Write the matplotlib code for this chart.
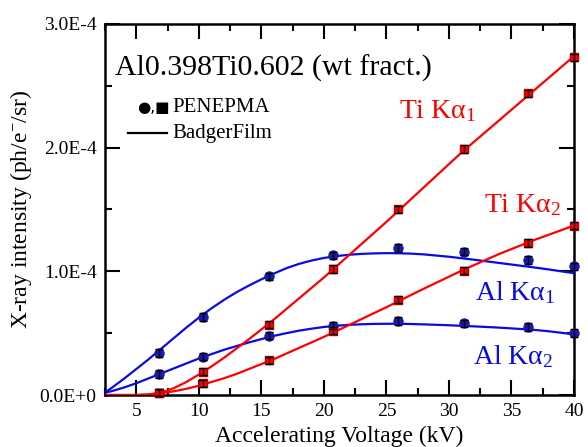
import numpy as np
import matplotlib
matplotlib.use("Agg")
import matplotlib.pyplot as plt
from matplotlib.ticker import MultipleLocator, FuncFormatter

plt.rcParams['font.family'] = ['Liberation Serif', 'DejaVu Sans']
plt.rcParams['mathtext.fontset'] = 'custom'
plt.rcParams['mathtext.rm'] = 'Liberation Serif'
plt.rcParams['mathtext.it'] = 'Liberation Serif:italic'

# PENEPMA points (intensity in units of 1E-4 ph/e-/sr)
volt_pts = [6.8, 10.35, 15.6, 20.7, 25.9, 31.2, 36.3, 40.0]
ti_ka1_pts = [0.02, 0.19, 0.57, 1.02, 1.50, 1.99, 2.44, 2.73]
ti_ka2_pts = [0.02, 0.095, 0.28, 0.52, 0.77, 1.005, 1.23, 1.37]
al_ka1_pts = [0.34, 0.63, 0.96, 1.13, 1.19, 1.16, 1.09, 1.04]
al_ka2_pts = [0.17, 0.31, 0.48, 0.56, 0.60, 0.58, 0.55, 0.50]
err = 0.03

# BadgerFilm curves
volt_al = [2.5, 3, 4, 5, 6, 7, 8, 9, 10, 11, 12, 13, 14, 15, 16, 17, 18, 19,
           20, 21, 22, 23, 24, 25, 26, 27, 28, 30, 32, 34, 36, 37, 38, 39, 40]
al_ka1_fit = [0.02, 0.055, 0.13, 0.21, 0.29, 0.375, 0.46, 0.545, 0.625, 0.70,
              0.768, 0.83, 0.885, 0.935, 0.982, 1.025, 1.06, 1.087, 1.108,
              1.123, 1.134, 1.141, 1.145, 1.147, 1.146, 1.143, 1.137, 1.118,
              1.094, 1.068, 1.042, 1.029, 1.015, 1.0, 0.985]
al_ka2_fit = [0.02, 0.03, 0.06, 0.095, 0.135, 0.175, 0.215, 0.255, 0.295,
              0.33, 0.365, 0.395, 0.425, 0.452, 0.478, 0.50, 0.52, 0.536,
              0.55, 0.56, 0.567, 0.572, 0.575, 0.576, 0.576, 0.574, 0.571,
              0.564, 0.555, 0.545, 0.532, 0.525, 0.515, 0.503, 0.49]

volt_ti = [2.5, 4, 5, 6, 7, 8, 9, 10, 11, 12, 13, 14, 15, 16, 17, 18, 19, 20,
           22, 25, 28, 31, 34, 37, 40]
ti_ka1_fit = [0, 0, 0, 0.005, 0.02, 0.055, 0.105, 0.165, 0.23, 0.30, 0.375,
              0.45, 0.53, 0.61, 0.695, 0.78, 0.865, 0.95, 1.13, 1.40, 1.68,
              1.96, 2.22, 2.48, 2.74]
ti_ka2_fit = [0, 0, 0, 0.003, 0.015, 0.03, 0.05, 0.075, 0.105, 0.135, 0.17,
              0.21, 0.25, 0.29, 0.335, 0.38, 0.425, 0.47, 0.565, 0.71, 0.86,
              1.005, 1.14, 1.26, 1.37]

RED = '#ff0000'
BLUE = '#0a0ae6'
NAVY = '#1a1aa8'
scale = 1e-4

fig = plt.figure(figsize=(5.88, 4.47), dpi=100)
ax = fig.add_axes([105 / 588, 1 - 395 / 447, 469 / 588, 371 / 447])

for ys in [al_ka1_fit, al_ka2_fit]:
    ax.plot(volt_al, np.array(ys) * scale, color=BLUE, lw=1.6, zorder=3)
for ys in [ti_ka1_fit, ti_ka2_fit]:
    ax.plot(volt_ti, np.array(ys) * scale, color=RED, lw=1.6, zorder=3)

for ys in [al_ka1_pts, al_ka2_pts]:
    ax.plot(volt_pts, np.array(ys) * scale, 'o', color=NAVY, ms=6.5,
            mec=NAVY, zorder=4, clip_on=False)
    ax.errorbar(volt_pts, np.array(ys) * scale, yerr=err * scale, fmt='none',
                ecolor='black', elinewidth=1.0, capsize=2.8, capthick=1.0,
                zorder=5, clip_on=False)
for ys in [ti_ka1_pts, ti_ka2_pts]:
    ax.plot(volt_pts, np.array(ys) * scale, 's', color=RED, ms=6,
            mec='#c00000', zorder=4, clip_on=False)
    ax.errorbar(volt_pts, np.array(ys) * scale, yerr=err * scale, fmt='none',
                ecolor='black', elinewidth=1.0, capsize=2.8, capthick=1.0,
                zorder=5, clip_on=False)

ax.set_xlim(2.5, 40)
ax.set_ylim(0, 3e-4)
ax.xaxis.set_major_locator(MultipleLocator(5))
ax.xaxis.set_minor_locator(MultipleLocator(2.5))
ax.yaxis.set_major_locator(MultipleLocator(1e-4))
ax.yaxis.set_minor_locator(MultipleLocator(0.5e-4))


def sci_fmt(v, pos):
    if abs(v) < 1e-12:
        return '0.0E+0'
    exp = int(np.floor(np.log10(abs(v)) + 1e-9))
    return '%.1fE%d' % (v / 10 ** exp, exp)


ax.yaxis.set_major_formatter(FuncFormatter(sci_fmt))
ax.tick_params(which='both', direction='in', top=True, right=True,
               labelsize=14, width=1.5, pad=6)
ax.tick_params(which='major', length=11)
ax.tick_params(which='minor', length=5)
for sp in ax.spines.values():
    sp.set_linewidth(1.8)

ax.set_xlabel('Accelerating Voltage (kV)', fontsize=17, labelpad=4)
ax.set_ylabel('X-ray intensity (ph/e$^{-}$/sr)', fontsize=17, labelpad=4)

ax.text(0.021, 0.881, 'Al0.398Ti0.602 (wt fract.)', transform=ax.transAxes,
        fontsize=21.5, va='center', ha='left')
ax.text(0.068, 0.774, '●,■', transform=ax.transAxes, fontsize=11,
        va='center', ha='left', family=['DejaVu Sans'])
ax.text(0.144, 0.774, 'PENEPMA', transform=ax.transAxes, fontsize=15,
        va='center', ha='left')
ax.plot([0.049, 0.132], [0.706, 0.706], color='black', lw=1.6,
        transform=ax.transAxes)
ax.text(0.144, 0.706, 'BadgerFilm', transform=ax.transAxes, fontsize=15,
        va='center', ha='left')

ax.text(0.627, 0.747, 'Ti Kα$_1$', transform=ax.transAxes, fontsize=20,
        color=RED, va='baseline', ha='left')
ax.text(0.808, 0.493, 'Ti Kα$_2$', transform=ax.transAxes, fontsize=20,
        color=RED, va='baseline', ha='left')
ax.text(0.789, 0.256, 'Al Kα$_1$', transform=ax.transAxes, fontsize=20,
        color=BLUE, va='baseline', ha='left')
ax.text(0.785, 0.0836, 'Al Kα$_2$', transform=ax.transAxes, fontsize=20,
        color=BLUE, va='baseline', ha='left')

fig.savefig('out.png', dpi=100)
